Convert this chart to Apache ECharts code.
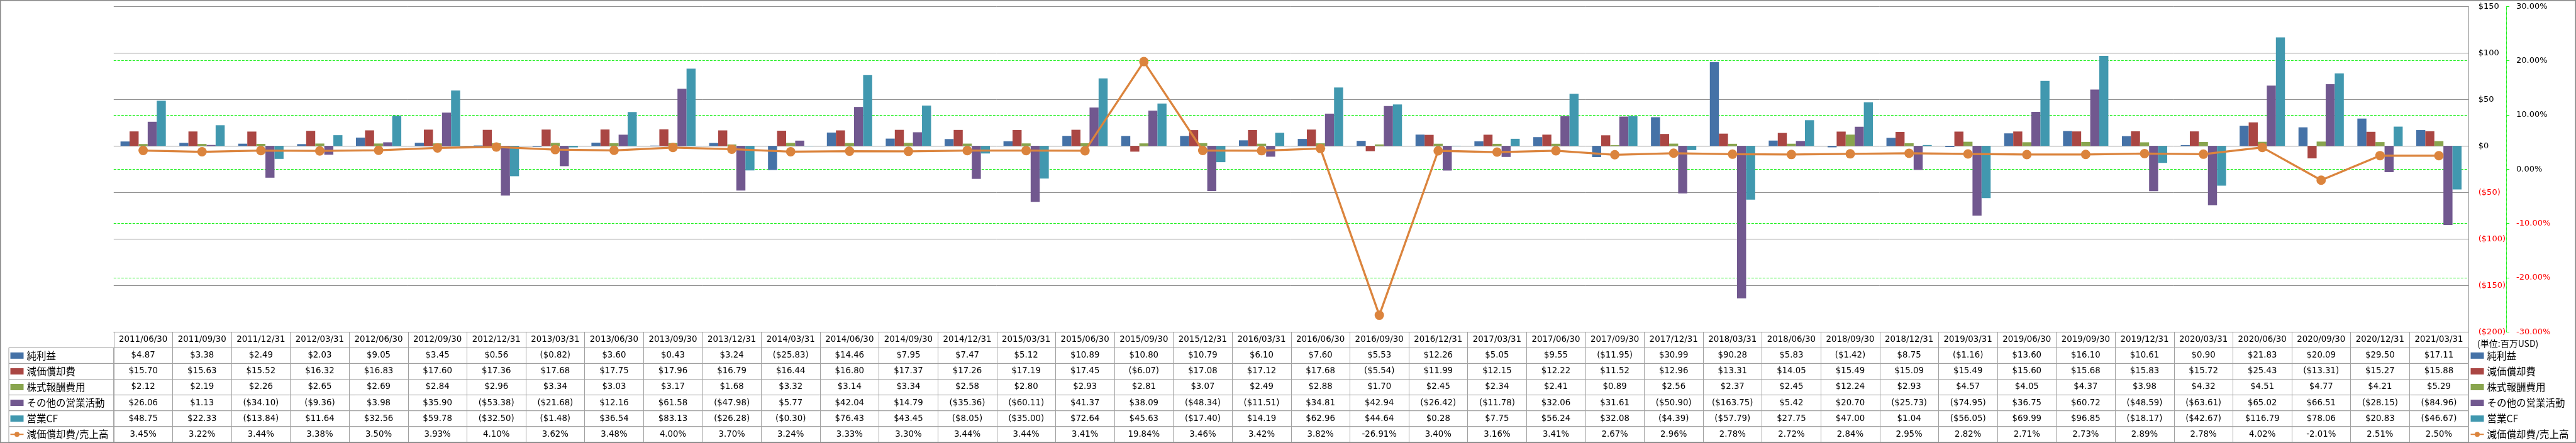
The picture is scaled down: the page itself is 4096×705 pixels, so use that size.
<!DOCTYPE html>
<html><head><meta charset="utf-8">
<script src="https://cdn.jsdelivr.net/npm/echarts@6/dist/echarts.min.js"></script>
<style>html,body{margin:0;padding:0;background:#fff;overflow:hidden}#c{width:4096px;height:705px}</style>
</head><body><div id="c"></div>
<script>
// ---------------- data ----------------
const categories = ['2011/06/30','2011/09/30','2011/12/31','2012/03/31','2012/06/30','2012/09/30','2012/12/31','2013/03/31','2013/06/30','2013/09/30','2013/12/31','2014/03/31','2014/06/30','2014/09/30','2014/12/31','2015/03/31','2015/06/30','2015/09/30','2015/12/31','2016/03/31','2016/06/30','2016/09/30','2016/12/31','2017/03/31','2017/06/30','2017/09/30','2017/12/31','2018/03/31','2018/06/30','2018/09/30','2018/12/31','2019/03/31','2019/06/30','2019/09/30','2019/12/31','2020/03/31','2020/06/30','2020/09/30','2020/12/31','2021/03/31'];
const netIncome = [4.87,3.38,2.49,2.03,9.05,3.45,0.56,-0.82,3.60,0.43,3.24,-25.83,14.46,7.95,7.47,5.12,10.89,10.80,10.79,6.10,7.60,5.53,12.26,5.05,9.55,-11.95,30.99,90.28,5.83,-1.42,8.75,-1.16,13.60,16.10,10.61,0.90,21.83,20.09,29.50,17.11];
const depreciation = [15.70,15.63,15.52,16.32,16.83,17.60,17.36,17.68,17.75,17.96,16.79,16.44,16.80,17.37,17.26,17.19,17.45,-6.07,17.08,17.12,17.68,-5.54,11.99,12.15,12.22,11.52,12.96,13.31,14.05,15.49,15.09,15.49,15.60,15.68,15.83,15.72,25.43,-13.31,15.27,15.88];
const stockComp = [2.12,2.19,2.26,2.65,2.69,2.84,2.96,3.34,3.03,3.17,1.68,3.32,3.14,3.34,2.58,2.80,2.93,2.81,3.07,2.49,2.88,1.70,2.45,2.34,2.41,0.89,2.56,2.37,2.45,12.24,2.93,4.57,4.05,4.37,3.98,4.32,4.51,4.77,4.21,5.29];
const otherOps = [26.06,1.13,-34.10,-9.36,3.98,35.90,-53.38,-21.68,12.16,61.58,-47.98,5.77,42.04,14.79,-35.36,-60.11,41.37,38.09,-48.34,-11.51,34.81,42.94,-26.42,-11.78,32.06,31.61,-50.90,-163.75,5.42,20.70,-25.73,-74.95,36.75,60.72,-48.59,-63.61,65.02,66.51,-28.15,-84.96];
const operatingCF = [48.75,22.33,-13.84,11.64,32.56,59.78,-32.50,-1.48,36.54,83.13,-26.28,-0.30,76.43,43.45,-8.05,-35.00,72.64,45.63,-17.40,14.19,62.96,44.64,0.28,7.75,56.24,32.08,-4.39,-57.79,27.75,47.00,1.04,-56.05,69.99,96.85,-18.17,-42.67,116.79,78.06,20.83,-46.67];
const depToSales = [3.45,3.22,3.44,3.38,3.50,3.93,4.10,3.62,3.48,4.00,3.70,3.24,3.33,3.30,3.44,3.44,3.41,19.84,3.46,3.42,3.82,-26.91,3.40,3.16,3.41,2.67,2.96,2.78,2.72,2.84,2.95,2.82,2.71,2.73,2.89,2.78,4.02,-2.01,2.51,2.50];
const seriesNames = ['純利益','減価償却費','株式報酬費用','その他の営業活動','営業CF','減価償却費/売上高'];
const dollarAxis = {min:-200, max:150, interval:50};
const pctAxis = {min:-30, max:30, interval:10};
const unitLabel = '(単位:百万USD)';

// ---------------- layout ----------------
const S = 0.548;
const W = 4096, H = 705;
const plotLeft = 330*S, plotRight = 7162*S, plotTop = 19*S, plotBottom = 964*S;
const rowH = 45.75*S;
const tableLeft = 25.5*S;
const colors = ['#4572A7','#AA4643','#89A54E','#71588F','#4198AF','#DB843D'];
const numFont = 'DejaVu Sans';
const cjkFont = 'Noto Sans CJK JP';
const gridGray = '#8c8c8c';
const tableGray = '#a0a0a0';
const green = '#11ee11';

const fmtMoney = v => v < 0 ? '($' + Math.abs(v).toFixed(2) + ')' : '$' + v.toFixed(2);
const fmtPct = v => v.toFixed(2) + '%';
const tableRows = [
  netIncome.map(fmtMoney), depreciation.map(fmtMoney), stockComp.map(fmtMoney),
  otherOps.map(fmtMoney), operatingCF.map(fmtMoney), depToSales.map(fmtPct)
];
const barData = [netIncome, depreciation, stockComp, otherOps, operatingCF];

const grids = [{left: plotLeft, width: plotRight - plotLeft, top: plotTop, height: plotBottom - plotTop}];
const xAxes = [{
  type:'category', gridIndex:0, data:categories, position:'bottom',
  axisLine:{show:true, onZero:false, lineStyle:{color:gridGray, width:1}},
  axisTick:{show:true, interval:0, length:rowH, lineStyle:{color:tableGray, width:1}},
  axisLabel:{interval:0, margin:rowH/2, verticalAlign:'middle', fontFamily:numFont, fontSize:13.4, color:'#000'},
  splitLine:{show:false}
}];
const yAxes = [
  {
    type:'value', gridIndex:0, position:'right', min:dollarAxis.min, max:dollarAxis.max, interval:dollarAxis.interval,
    axisLine:{show:true, lineStyle:{color:gridGray, width:1}},
    axisTick:{show:false},
    axisLabel:{margin:16, align:'left', fontFamily:numFont, fontSize:13,
      color: v => (v < 0 ? '#ff0000' : '#000'),
      formatter: v => v < 0 ? '($' + Math.abs(v) + ')' : '$' + v},
    splitLine:{show:true, lineStyle:{color:gridGray, width:1}}
  },
  {
    type:'value', gridIndex:0, position:'right', offset:7272*S - plotRight,
    min:pctAxis.min, max:pctAxis.max, interval:pctAxis.interval,
    axisLine:{show:true, lineStyle:{color:green, width:1, type:'dotted'}},
    axisTick:{show:true, length:5, lineStyle:{color:green, width:1}},
    axisLabel:{margin:16, align:'left', fontFamily:numFont, fontSize:13,
      color: v => (v < 0 ? '#ff0000' : '#000'),
      formatter: v => v.toFixed(2) + '%'},
    splitLine:{show:true, showMinLine:false, showMaxLine:false, lineStyle:{color:green, width:1, type:'dashed'}}
  }
];
const graphics = [];
const tableTop = plotBottom + rowH;
tableRows.forEach((row, i) => {
  const gi = i + 1;
  const top = tableTop + i*rowH;
  grids.push({left: plotLeft, width: plotRight - plotLeft, top: top, height: rowH,
    show:true, borderColor:tableGray, borderWidth:1, backgroundColor:'transparent'});
  xAxes.push({
    type:'category', gridIndex:gi, data:categories, position:'bottom',
    axisLine:{show:false}, axisTick:{show:false},
    axisLabel:{interval:0, margin:-rowH/2, verticalAlign:'middle', fontFamily:numFont, fontSize:13.3, color:'#000',
      formatter:(val, idx) => row[idx]},
    splitLine:{show:true, interval:0, lineStyle:{color:tableGray, width:1}}
  });
  yAxes.push({type:'value', gridIndex:gi, show:false});
  graphics.push({type:'rect', shape:{x:tableLeft, y:top, width:plotLeft - tableLeft, height:rowH},
    style:{fill:'none', stroke:tableGray, lineWidth:1}, silent:true});
});
graphics.push({type:'rect', shape:{x:0.75, y:0.75, width:W-1.5, height:H-1.5},
  style:{fill:'none', stroke:'#888', lineWidth:1.5}, silent:true});
graphics.push({type:'text', x:7188*S, y:997*S,
  style:{text:unitLabel, fontFamily:cjkFont, fontSize:14, fill:'#000', verticalAlign:'middle', align:'left'}, silent:true});

const series = barData.map((d, i) => ({
  type:'bar', name:seriesNames[i], data:d, xAxisIndex:0, yAxisIndex:0,
  barGap:'0%', barCategoryGap:'23%', itemStyle:{color:colors[i]}
}));
series.push({
  type:'line', name:seriesNames[5], data:depToSales, xAxisIndex:0, yAxisIndex:1,
  symbol:'circle', symbolSize:15, z:5,
  lineStyle:{color:colors[5], width:3.3}, itemStyle:{color:colors[5]}
});

const legendData = seriesNames.map((n, i) => i < 5 ? {name:n, icon:'rect'} : {name:n});
const legendBase = {
  orient:'vertical', top:tableTop, padding:0, itemGap:0, itemWidth:21, itemHeight:10,
  selectedMode:false, data:legendData,
  textStyle:{fontFamily:cjkFont, fontSize:15.5, color:'#000', lineHeight:rowH}
};

const chart = echarts.init(document.getElementById('c'));
chart.setOption({
  animation:false,
  backgroundColor:'#fff',
  grid:grids, xAxis:xAxes, yAxis:yAxes, series:series,
  legend:[Object.assign({left:15.5}, legendBase), Object.assign({left:7167*S}, legendBase)],
  graphic:graphics
});
</script></body></html>
